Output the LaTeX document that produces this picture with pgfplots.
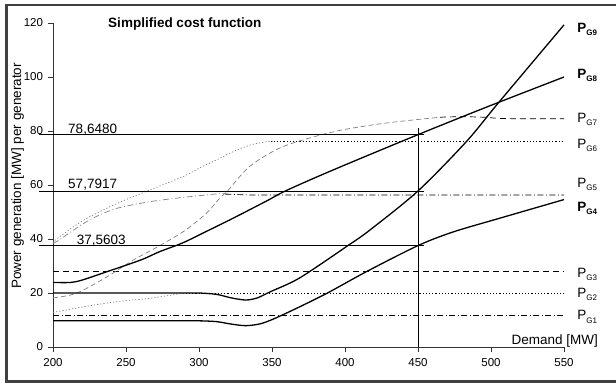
\documentclass[border=0pt]{standalone}
\usepackage{fontspec}
\setmainfont{Liberation Sans}
\usepackage{pgfplots}
\pgfplotsset{compat=1.18}
\newcommand{\PG}[1]{P\raisebox{-3pt}{\fontsize{8}{8}\selectfont G#1}}
\newcommand{\PGb}[1]{\textbf{P\raisebox{-3pt}{\fontsize{8}{8}\selectfont G#1}}}
\begin{document}
\begin{tikzpicture}
\path[use as bounding box] (0,0) rectangle (616pt,383pt);
\draw[line width=2.2pt, black!75] (6.5pt,1.5pt) rectangle (640pt,378pt);
\begin{axis}[
  at={(53pt,36pt)}, anchor=south west, scale only axis,
  width=511pt, height=324pt,
  xmin=200, xmax=550, ymin=0, ymax=120,
  axis x line=bottom, axis y line=left,
  axis line style={-, line width=0.9pt, black!80},
  xtick={200,250,...,550}, ytick={0,20,...,120},
  tick align=outside, major tick length=5pt,
  tick style={line width=0.8pt, black!80},
  ticklabel style={font=\fontsize{11.5}{12}\selectfont},
  xticklabel style={yshift=-2.5pt},
  yticklabel style={xshift=-1.5pt},
  /pgf/number format/assume math mode=true,
  clip=false,
]
% black flat limit lines
\addplot[black, line width=0.7pt, dash pattern=on 6pt off 2.5pt on 1pt off 2.5pt] coordinates {(200,11.6) (550,11.6)};
\addplot[black, line width=0.7pt, dash pattern=on 1.2pt off 2pt] coordinates {(291,20) (550,20)};
\addplot[black, line width=0.7pt, dash pattern=on 6pt off 4pt] coordinates {(200,28) (550,28)};
\addplot[black, line width=0.7pt, dash pattern=on 6pt off 2.5pt on 1pt off 2.5pt] coordinates {(318,56.6) (335,56.3) (550,56.3)};
\addplot[black, line width=0.7pt, dash pattern=on 1.2pt off 2pt] coordinates {(349,76.2) (550,76.2)};
\addplot[black, line width=0.7pt, dash pattern=on 6pt off 4pt, smooth] coordinates {(465,85.1) (480,85.3) (495,85.1) (510,84.6) (550,84.5)};
% gray transition curves
\addplot[black!50, line width=0.7pt, dash pattern=on 1.2pt off 2pt, smooth] coordinates {(200,12.8) (221,14.9) (244,16.8) (266,18) (289,19.9) (293,20)};
\addplot[black!50, line width=0.7pt, dash pattern=on 1.2pt off 2pt, smooth] coordinates {(200,38.5) (203,40.2) (221,47) (244,53.2) (266,58.1) (289,63.1) (301,66.5) (312,69.3) (324,72.5) (335,74.8) (346,76) (352,76.2)};
\addplot[black!50, line width=0.7pt, dash pattern=on 6pt off 2.5pt on 1pt off 2.5pt, smooth] coordinates {(200,38.5) (203,39.2) (221,45.8) (232,48.9) (244,51.4) (266,53.8) (289,55.4) (312,56.7) (320,57)};
\addplot[black!50, line width=0.7pt, dash pattern=on 5pt off 3pt, smooth] coordinates {(200,18.2) (216,19.9) (237,26) (255,32.2) (273,37.5) (290,43) (305,49.5) (314,55) (320,58.1) (335,67) (357.5,74.2) (392,79.7) (426,82.8) (465,85.1)};
% solid generator curves
\addplot[black, line width=1.3pt, smooth] coordinates {(200,23.9) (212,23.9) (220,24.8) (237,27.9) (260,32.2) (273,35.3) (289,38.6) (305,42.8) (323,47.6) (346,54) (360,58) (392,65.6) (450,78.65) (500,89.5) (550,100)};
\addplot[black, line width=1.3pt, smooth] coordinates {(200,20) (290,20) (300,20) (312,19.5) (322,18.2) (332,17.4) (340,18.2) (349,20.5) (369,25.6) (402,37.56) (417,43.3) (450,57.79) (483,76) (505.5,90.7) (550,119.3)};
\addplot[black, line width=1.3pt, smooth] coordinates {(200,9.7) (290,9.7) (300,9.7) (312,9.4) (322,8.5) (332,7.9) (342,8.6) (352,10.6) (369,14.9) (388,20) (415,28) (450,37.56) (474,42.6) (506,47.7) (550,54.6)};
% reference lines
\addplot[black, line width=0.8pt] coordinates {(190.4,78.648) (454,78.648)};
\addplot[black, line width=0.8pt] coordinates {(190.4,57.7917) (454,57.7917)};
\addplot[black, line width=0.8pt] coordinates {(190.4,37.5603) (454,37.5603)};
\addplot[black, line width=0.8pt] coordinates {(450,0) (450,81)};
% texts
\node[anchor=west, inner sep=0, font=\bfseries\fontsize{13.5}{14}\selectfont] at (axis cs:237.7,119.6) {Simplified cost function};
\node[anchor=base west, inner sep=0, font=\fontsize{13.5}{14}\selectfont] at (axis cs:210.3,79.1) {78,6480};
\node[anchor=base west, inner sep=0, font=\fontsize{13.5}{14}\selectfont] at (axis cs:210.3,58.8) {57,7917};
\node[anchor=base west, inner sep=0, font=\fontsize{13.5}{14}\selectfont] at (axis cs:216.2,38.0) {37,5603};
\node[anchor=base east, inner sep=0, font=\fontsize{13.5}{14}\selectfont] at (axis cs:573.3,0.8) {Demand [MW]};
\begin{scope}[every node/.style={anchor=base west, inner sep=0, font=\fontsize{13.5}{14}\selectfont}]
\node at (axis cs:559,116.3) {\PGb{9}};
\node at (axis cs:559,99.6) {\PGb{8}};
\node at (axis cs:559,83.3) {\PG{7}};
\node at (axis cs:559,73.7) {\PG{6}};
\node at (axis cs:559,58.9) {\PG{5}};
\node at (axis cs:559,50.0) {\PGb{4}};
\node at (axis cs:559,25.9) {\PG{3}};
\node at (axis cs:559,18.5) {\PG{2}};
\node at (axis cs:559,10.0) {\PG{1}};
\end{scope}
\end{axis}
\node[rotate=90, anchor=base, inner sep=0, font=\fontsize{13.5}{14}\selectfont] at (21pt,207pt) {Power generation [MW] per generator};
\end{tikzpicture}
\end{document}
